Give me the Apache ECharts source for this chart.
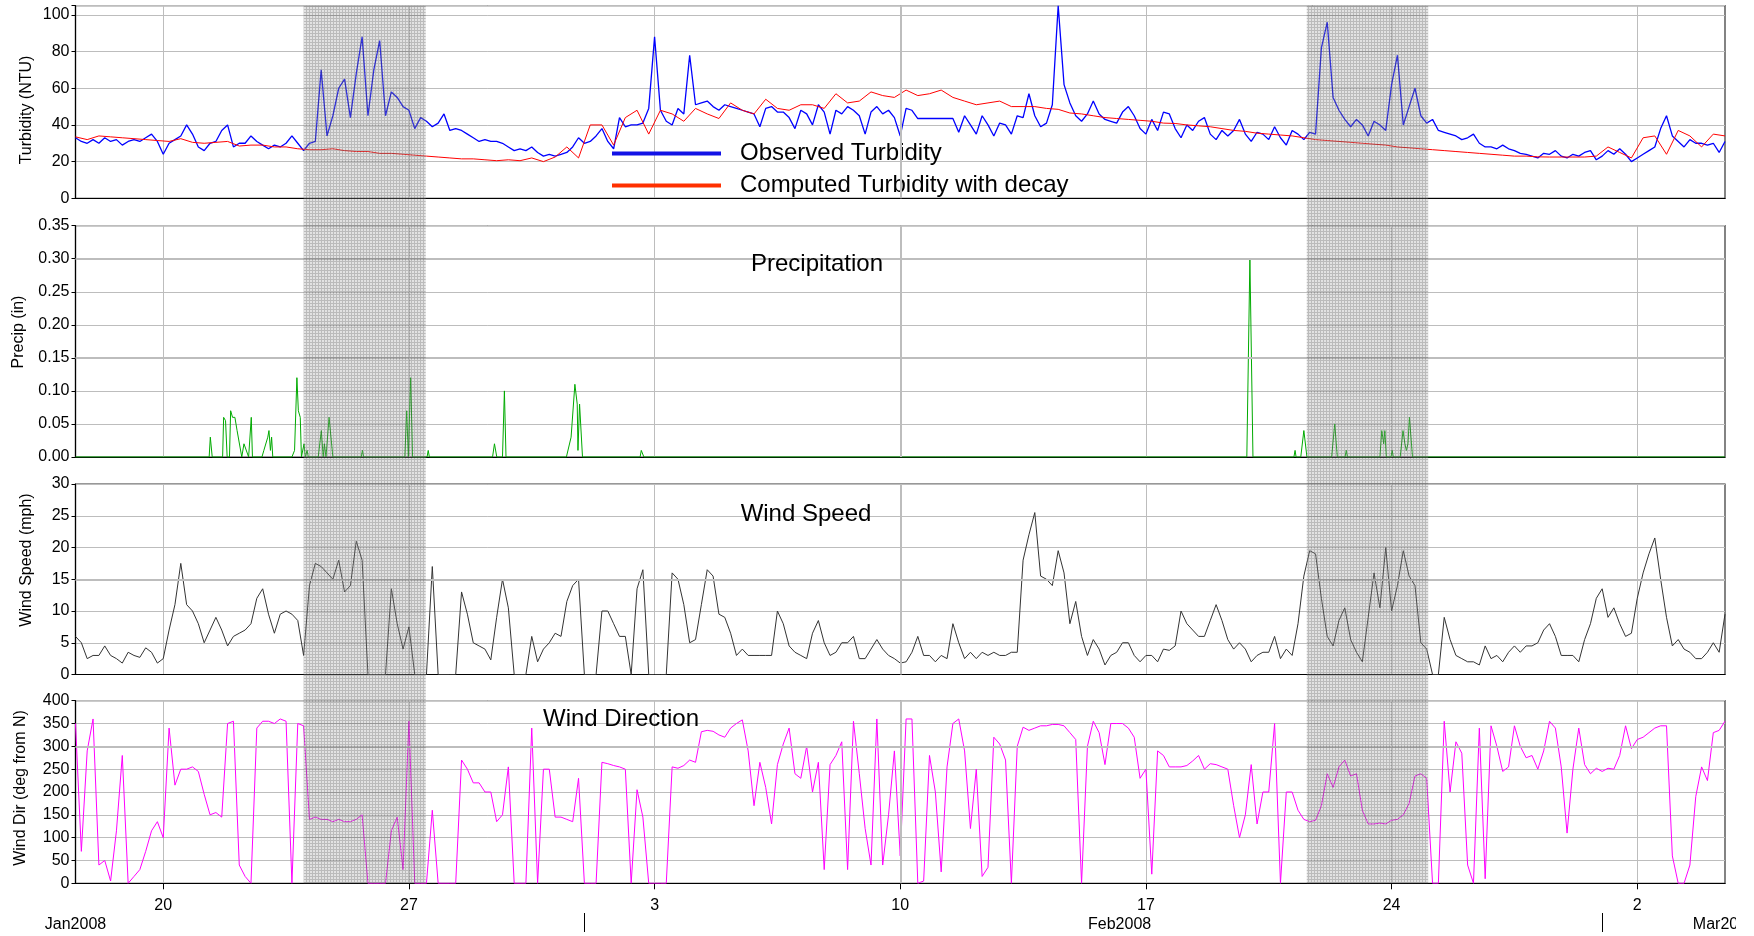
<!DOCTYPE html>
<html><head><meta charset="utf-8">
<script src="https://cdn.jsdelivr.net/npm/echarts@6/dist/echarts.min.js"></script>
<style>html,body{margin:0;padding:0;background:#fff}#c{width:1754px;height:936px}</style>
</head><body><div id="c"></div>
<script>
// ---------- time basis ----------
const START = Date.UTC(2008, 0, 17, 12);          // left edge of the plots
const END = START + 47 * 24 * 3600e3;             // right edge of the plots
const HOUR = 3600e3;
const STEP_OBS = 4;   // hours between samples (observed turbidity, wind)
const STEP_CALC = 8;  // hours between samples (computed turbidity)

const WEEK_TICKS = ['2008-01-20','2008-01-27','2008-02-03','2008-02-10','2008-02-17','2008-02-24','2008-03-02'];
const MONTH_BREAKS = ['2008-02-01','2008-03-01'];
const MONTH_LABELS = ['Jan2008','Feb2008','Mar2008'];
const MONTH_LABEL_AT = ['2008-01-17T12:00Z','2008-02-16T06:00Z','2008-03-03T14:00Z'];
const STORM_BANDS = [['2008-01-24T00:00Z','2008-01-27T11:30Z'],['2008-02-21T14:00Z','2008-02-25T01:00Z']];
// gridlines that are drawn heavier in the source
const HEAVY_X = ['2008-02-10'];
const HEAVY_Y = [[], [0.30, 0.15], [15], [300]];

// ---------- series values ----------
const TURB_OBS = [
33,31,30,32,30,33,31,32,29,31, 32,31,33,35,31,24,30,32,34,40,
35,28,26,30,31,37,40,28,30,30, 34,31,29,27,29,28,30,34,30,26,
30,31,70,34,45,60,65,44,68,88, 45,70,86,45,58,55,50,48,38,44,
42,39,41,46,37,38,37,35,33,31, 32,31,31,30,28,26,27,26,28,25,
23,24,23,24,25,28,33,30,31,34,
38,31,27,44,39,40,40,41,49,88, 48,42,40,49,46,78,51,52,53,50,
48,51,50,49,48,47,46,39,49,50, 47,47,44,38,48,46,40,51,47,35,
48,46,50,48,45,35,47,50,46,48, 44,34,49,48,43.5,43.5,43.5,43.5,43.5,43.5,
43.5,36,45,40,35,45,40,34,41,40, 35,45,44,57,45,39,41,51,105,62,
52,45,42,46,53,46,43,42,41,47, 50,45,38,35,43,37,47,46,38,
33,40,37,42,44,35,32,37,34,37,43,
35,31,36,35,32,39,33,29,37,35, 32,36,35,82,96,55,48,43,39,43,
40,34,42,40,37,62,78,40,50,60, 45,41,43,37,36,35,34,32,33,35,
30,28,28,27,29,27,26,24.5,24,23, 22,24.5,24,26,23,22,24,23,25,26,
21,23,26,24,27,24,20,22,24,26, 28,38,45,34,31,28,32,30,30,29,
30,25,31
];
const TURB_CALC = [
33.5,32,34,33.5,33,32.5,32,31.5,31,32.5, 30.5,30,30.5,31,28.5,29,29,28,28,27,
26.5,26.5,27,26,25.5,25.5,24.5,24.5,24,23.5, 23,22.5,22,21.5,21.5,21,20.5,21,20.5,22,
20,22.5,28,22,40,40,29,44,48,35, 48,46,42,49,46,43.5,52,48,46,54,
49,48,51,51,49,57,52,53,58,56, 55,59,56,57,59,55,53,51,52,53,
50,50,50,49,48.5,46.5,46,45,44,43.5, 43,42.5,42,41,40.8,40,39.5,39,38,37,
36.5,35.5,35,34.5,34,33,32,31.5,31,30.5, 30,29.5,29,28,27.5,27,26.5,26,25.5,25,
24.5,24,23.5,23,23,22.6,22.5,22.5,22.5,22.5, 23,28,25,22,33,34,24,37,34,28,
35,34
];
// [hours after START, inches]
const PRECIP = [
[0,0],[91.4,0],[92.2,0.03],[93.5,0],[100.6,0],[101.3,0.06],[102.6,0.055],[103.7,0],
[105.3,0],[106.1,0.07],[107.4,0.06],[109,0.06],[110.5,0.04],[111.8,0.04],[113.7,0],
[114.4,0],[115.2,0.02],[116.3,0.02],[118.4,0],[119.4,0],[120.2,0.06],[121,0],
[127.5,0],[128.8,0.01],[129.6,0.01],[130.1,0.01],[131.5,0.03],[132.3,0.04],[133.3,0.01],[134.1,0.03],[134.9,0],
[148,0],[149.8,0.01],[151.4,0.12],[152.4,0.07],[153.7,0.06],[154.5,0],
[155.8,0],[156.3,0.02],[157.1,0],[158.4,0.01],[159.2,0],
[166,0],[168.1,0.04],[169.4,0],[170.2,0.02],[171.3,0],[172.1,0],[173.4,0.06],[174.2,0.06],[176,0],
[195.4,0],[196.2,0.01],[197,0],
[225.2,0],[226.5,0.07],[227.6,0],[228.4,0],[229.2,0.12],[230.5,0],
[240.4,0],[241.2,0.01],[242,0],
[285.2,0],[286.5,0.02],[288.1,0],[292,0],[293.3,0.10],[294.4,0],
[335.7,0],[338.9,0.03],[341.5,0.11],[343.1,0.08],[343.6,0.01],[344.7,0.08],[346.7,0],
[386.1,0],[386.9,0.01],[388.7,0],
[801,0],[803.1,0.30],[805.2,0],
[833.2,0],[834,0.01],[834.7,0],[837.9,0],[840,0.04],[842.1,0],
[859,0],[861.1,0.05],[862.9,0],[868.2,0],[869,0.01],[869.8,0],
[892,0],[893.3,0.04],[894.6,0.02],[895.4,0.04],[896.4,0],[899.6,0],[900.4,0.01],[901.2,0],
[905.9,0],[907.8,0.04],[909.1,0.02],[910.1,0.01],[911.2,0.02],[912.2,0.06],[914.3,0],
[1128,0]
];
const WIND_SPD = [
6,5,2.5,3,3,4.5,3,2.5,1.8,3.5, 3,2.7,4.2,3.5,1.8,2.5,7,11,17.5,11,
10,8,5,7,9,7,4.5,6,6.5,7, 8,12,13.5,9.5,6.5,9.5,10,9.5,8.5,3,
14,17.5,17,16,15,18,13,14,21,18, 0,0,0,0,13.5,8,4,7.5,0,0,
0,17,0,0,0,0,13,9.5,5,4.5, 4,2.3,9,15,10.5,0,0,0,6,2,
4,5,6.5,6,11.5,14,15,0,0,0, 10,10,8,6,6,0,13.5,16.5,0,0,
0,0,16,15,11,5,5.5,11,16.5,15.5, 9.5,9,6.5,3,4,3,3,3,3,3,
10,8,4.5,3.5,3,2.5,6.5,8.5,5,3, 3.5,5,5,6,2.5,2.5,4,5.5,4,3,
2.5,1.8,2,3.5,6,3,3,2,3,2.5, 8,5,2.5,3.5,2.5,3.5,3,3.5,3,3,
3.5,3.5,18,22,25.5,15.5,15,14,19.5,16, 8,11.5,6,3,5.5,4,1.5,3,3.5,5,
5,3,2,3,3,2,4,3.8,4.5,10, 8,7,6,6,8.5,11,8.5,5.5,4,5,
4,2,3,3.5,3.5,6,2.5,4,3,8, 15.5,19.5,19,12,6,4.5,8.5,10.5,5.5,3.5,
2,9,16,10.5,20,10,14,19.5,15.5,14, 5,4,0,0,9,5.5,3,2.5,2,2,
1.5,4.5,2.5,3,2,3.5,4.5,3.5,4.5,4.5, 5,7,8,6,3,3,3,2,5.5,8,
12,13.5,9,10.5,8,6,6.5,12,16,19, 21.5,15,9,4.5,5.5,4,3.5,2.5,2.5,3.5,
5,3.5,9.5
];
const WIND_DIR = [
350,70,290,360,40,50,5,115,280,0, 15,30,70,115,135,100,340,215,250,250,
255,245,195,150,155,145,350,355,40,15, 0,340,355,355,350,360,355,0,350,345,
140,145,140,140,135,140,135,135,140,150, 0,0,0,0,115,145,30,355,0,0,
0,160,0,0,0,0,270,250,220,220, 200,200,135,150,255,0,0,0,340,0,
250,250,145,145,140,135,230,0,0,0, 265,262,258,255,250,0,205,145,0,0,
0,0,255,252,258,270,265,332,335,333, 325,320,340,350,358,290,170,265,210,130,
260,305,340,240,230,300,200,265,30,260, 280,310,30,355,240,120,40,360,40,150,
290,60,360,360,0,5,280,200,25,255, 350,360,290,120,250,15,35,320,305,270,
0,300,342,335,340,345,345,348,348,345, 330,315,0,300,355,330,260,350,350,350,
340,320,230,250,20,290,280,255,255,255, 258,268,280,250,262,260,255,250,170,100,
150,260,130,200,200,350,0,200,200,160, 140,135,138,170,240,210,255,270,235,240,
160,130,130,132,130,138,140,150,175,235, 240,230,0,0,355,200,310,285,40,0,
340,10,345,300,245,255,345,300,275,280, 250,290,355,340,255,110,250,340,260,240,
252,245,252,250,280,345,295,315,320,330, 340,345,345,60,0,0,40,190,255,225,
330,335,355
];

// ---------- build ----------
const ts = s => Date.parse(s);
const stepSeries = (vals, stepH) => vals.map((v, i) => [START + i * stepH * HOUR, v]);
const FONT = '"Liberation Sans", Arial, sans-serif';
const weekTs = WEEK_TICKS.map(ts);
const GRID_COLOR = '#bdbdbd';

const GRIDS = [
  {top: 5.7, height: 192.6},
  {top: 225.7, height: 231.3},
  {top: 484, height: 190.5},
  {top: 700.7, height: 182.6}
];
const LEFT = 75.5, RIGHT = 29;

const yDefs = [
  {min: 0, max: 105, interval: 20, fmt: v => (v % 20 === 0 ? String(v) : '')},
  {min: 0, max: 0.35, interval: 0.05, fmt: v => v.toFixed(2)},
  {min: 0, max: 30, interval: 5, fmt: v => String(v)},
  {min: 0, max: 400, interval: 50, fmt: v => String(v)}
];

function heavyLines(gi) {
  return {
    silent: true, symbol: 'none', label: {show: false},
    lineStyle: {color: GRID_COLOR, width: 2, type: 'solid'},
    emphasis: {disabled: true},
    data: HEAVY_X.map(d => ({xAxis: ts(d)})).concat(HEAVY_Y[gi].map(v => ({yAxis: v})))
  };
}

const option = {
  animation: false,
  backgroundColor: '#fff',
  textStyle: {fontFamily: FONT},
  grid: GRIDS.map(g => ({left: LEFT, right: RIGHT, top: g.top, height: g.height,
    show: true, borderColor: '#333', borderWidth: 1.2, backgroundColor: 'transparent'})),
  xAxis: GRIDS.map((g, i) => ({
    type: 'value', gridIndex: i, min: START, max: END,
    axisLine: {show: true, onZero: false, lineStyle: {color: '#000', width: 1.2}},
    axisTick: {show: i === 3, length: 6, customValues: weekTs, lineStyle: {color: '#000'}},
    axisLabel: {show: i === 3, customValues: weekTs, fontSize: 16, color: '#000', margin: 14,
      fontFamily: FONT, formatter: v => String(new Date(v).getUTCDate())},
    splitLine: {show: true, lineStyle: {color: GRID_COLOR, width: 1}}
  })),
  yAxis: yDefs.map((d, i) => ({
    type: 'value', gridIndex: i, min: d.min, max: d.max, interval: d.interval,
    axisLine: {show: true, lineStyle: {color: '#000', width: 1.2}},
    axisTick: {show: true, length: 4, lineStyle: {color: '#000'}},
    axisLabel: {fontSize: 16, color: '#000', margin: 6, fontFamily: FONT, formatter: d.fmt},
    splitLine: {show: true, lineStyle: {color: GRID_COLOR, width: 1}}
  })),
  legend: {
    orient: 'vertical', left: 607, top: 134, itemGap: 3,
    icon: 'rect', itemWidth: 109, itemHeight: 4,
    textStyle: {fontSize: 24, color: '#000', fontFamily: FONT, lineHeight: 29, padding: [0, 0, 0, 14]},
    data: [
      {name: 'Observed Turbidity', itemStyle: {color: '#1212e6'}},
      {name: 'Computed Turbidity with decay', itemStyle: {color: '#ff3000'}}
    ]
  },
  series: [
    {name: 'Observed Turbidity', type: 'line', xAxisIndex: 0, yAxisIndex: 0, showSymbol: false,
      data: stepSeries(TURB_OBS, STEP_OBS), color: '#0000ff', lineStyle: {color: '#0000ff', width: 1.3}, z: 3,
      markLine: heavyLines(0)},
    {name: 'Computed Turbidity with decay', type: 'line', xAxisIndex: 0, yAxisIndex: 0, showSymbol: false,
      data: stepSeries(TURB_CALC, STEP_CALC), color: '#ff0000', lineStyle: {color: '#ff0000', width: 1}, z: 4},
    {name: 'Precipitation', type: 'line', xAxisIndex: 1, yAxisIndex: 1, showSymbol: false,
      data: PRECIP.map(([h, v]) => [START + h * HOUR, v]), lineStyle: {color: '#00aa00', width: 1}, color: '#00aa00',
      markLine: heavyLines(1)},
    {name: 'Wind Speed', type: 'line', xAxisIndex: 2, yAxisIndex: 2, showSymbol: false,
      data: stepSeries(WIND_SPD, STEP_OBS), lineStyle: {color: '#333', width: 1}, color: '#333',
      markLine: heavyLines(2)},
    {name: 'Wind Direction', type: 'line', xAxisIndex: 3, yAxisIndex: 3, showSymbol: false,
      data: stepSeries(WIND_DIR, STEP_OBS), lineStyle: {color: '#ff00ff', width: 1}, color: '#ff00ff',
      markLine: heavyLines(3)}
  ]
};

const chart = echarts.init(document.getElementById('c'), null, {renderer: 'canvas'});
chart.setOption(option);

function makePattern() {
  const c = document.createElement('canvas');
  c.width = 3; c.height = 3;
  const g = c.getContext('2d');
  g.fillStyle = 'rgba(165,165,165,0.32)';
  g.fillRect(1, 1, 2, 2);
  g.fillStyle = 'rgba(105,105,105,0.45)';
  g.fillRect(0, 0, 3, 1); g.fillRect(0, 1, 1, 2);
  return c;
}
const pat = makePattern();
const X = v => chart.convertToPixel({xAxisIndex: 3}, v);
const topY = GRIDS[0].top, botY = GRIDS[3].top + GRIDS[3].height;
const txt = (text, x, y, size, align, rot) => ({
  type: 'text', x: x, y: y, rotation: rot || 0, silent: true, z: 200,
  style: {text: text, fill: '#000', font: size + 'px ' + FONT,
    align: align || 'center', verticalAlign: 'middle', textAlign: align || 'center', textVerticalAlign: 'middle'}
});
const graphics = [];
STORM_BANDS.forEach(b => {
  const x1 = X(ts(b[0])), x2 = X(ts(b[1]));
  graphics.push({type: 'rect', silent: true, z: 150,
    shape: {x: x1, y: topY, width: x2 - x1, height: botY - topY},
    style: {fill: {image: pat, repeat: 'repeat'}}});
});
graphics.push(txt('Precipitation', 817, 264.5, 24));
graphics.push(txt('Wind Speed', 806, 514.5, 24));
graphics.push(txt('Wind Direction', 621, 719.5, 24));
graphics.push(txt('Turbidity (NTU)', 27, 110, 16, 'center', Math.PI / 2));
graphics.push(txt('Precip (in)', 19, 332, 16, 'center', Math.PI / 2));
graphics.push(txt('Wind Speed (mph)', 27, 560, 16, 'center', Math.PI / 2));
graphics.push(txt('Wind Dir (deg from N)', 21, 788, 16, 'center', Math.PI / 2));
graphics.push(txt(MONTH_LABELS[0], X(ts(MONTH_LABEL_AT[0])), 925, 16, 'center'));
graphics.push(txt(MONTH_LABELS[1], X(ts(MONTH_LABEL_AT[1])), 925, 16, 'center'));
graphics.push(txt(MONTH_LABELS[2], X(ts(MONTH_LABEL_AT[2])), 925, 16, 'left'));
MONTH_BREAKS.forEach(d => {
  const x = Math.round(X(ts(d))) + 0.5;
  graphics.push({type: 'line', silent: true, z: 200, shape: {x1: x, y1: 913, x2: x, y2: 932},
    style: {stroke: '#000', lineWidth: 1}});
});
// the source image is cut off just after the right plot border
graphics.push({type: 'rect', silent: true, z: 300, shape: {x: 1736, y: 900, width: 18, height: 36}, style: {fill: '#fff'}});
chart.setOption({graphic: graphics});
</script>
</body></html>
